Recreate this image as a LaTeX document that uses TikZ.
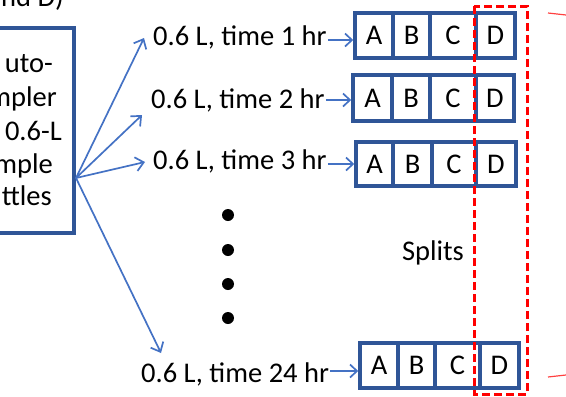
\documentclass[tikz,border=0pt]{standalone}
\usepackage{fontspec}
\setmainfont{Carlito}
\usetikzlibrary{arrows.meta,calc}
\definecolor{boxblue}{HTML}{2F5597}
\definecolor{arrblue}{HTML}{4472C4}
\definecolor{splitred}{HTML}{FF0000}
\begin{document}
\begin{tikzpicture}[x=1pt,y=-1pt,
  txt/.style={inner sep=0pt,font=\fontsize{28.5}{34}\selectfont},
  cell/.style={draw=boxblue,line width=3.5pt,minimum height=45pt,inner sep=0pt,font=\fontsize{28.5}{34}\selectfont},
  fan/.style={arrblue,line width=1.7pt,-{Straight Barb[length=8pt,width=14pt,line width=1.7pt]}},
  sarrow/.style={arrblue,line width=1.7pt,-{Straight Barb[length=7pt,width=13pt,line width=1.7pt]}},
  dot/.style={circle,fill=black,inner sep=0pt,minimum size=12pt},
  splitbox/.style={splitred,line width=3pt,dash pattern=on 8pt off 4pt},
  redstroke/.style={red!75,line width=1.2pt}
]
\useasboundingbox (0,0) rectangle (566,397);
\clip (0,0) rectangle (566,397);
% header fragment
\node[txt,anchor=base east] (hdr) at (64,6) {and D)};
% sampler box
\node[draw=boxblue,line width=4pt,minimum width=134pt,minimum height=205pt,inner sep=0pt] (sampler) at (7,130.5) {};
\node[txt,anchor=base east] (s1) at (53,72) {uto-};
\node[txt,anchor=base east] (s2) at (57,106) {mpler};
\node[txt,anchor=base east] (s3) at (62,140) {0.6-L};
\node[txt,anchor=base east] (s4) at (53,173) {mple};
\node[txt,anchor=base east] (s5) at (52,205) {ttles};
\coordinate (src) at (76,178);
% labels
\node[txt,anchor=base west] (l1) at (153,45) {0.6 L, time 1 hr};
\node[txt,anchor=base west] (l2) at (151,108) {0.6 L, time 2 hr};
\node[txt,anchor=base west] (l3) at (153,169) {0.6 L, time 3 hr};
\node[txt,anchor=base west] (l4) at (141,382) {0.6 L, time 24 hr};
\coordinate (t1) at (144,38);
\coordinate (t2) at (142,115);
\coordinate (t3) at (145,162);
\coordinate (t4) at (161,353);
\draw[fan] (src) -- (t1);
\draw[fan] (src) -- (t2);
\draw[fan] (src) -- (t3);
\draw[fan] (src) -- (t4);
% rows of cells
\node[cell,minimum width=38pt] (A1) at (374,35.5) {A};
\node[cell,minimum width=37pt] (B1) at (411.5,35.5) {B};
\node[cell,minimum width=46pt] (C1) at (453,35.5) {C};
\node[cell,minimum width=39pt] (D1) at (495.5,35.5) {D};
\node[cell,minimum width=39pt,minimum height=46pt] (A2) at (372.5,98) {A};
\node[cell,minimum width=38pt,minimum height=46pt] (B2) at (411,98) {B};
\node[cell,minimum width=46pt,minimum height=46pt] (C2) at (453,98) {C};
\node[cell,minimum width=38pt,minimum height=46pt] (D2) at (495,98) {D};
\node[cell,minimum width=37pt,minimum height=44pt] (A3) at (374.5,164) {A};
\node[cell,minimum width=39pt,minimum height=44pt] (B3) at (412.5,164) {B};
\node[cell,minimum width=44pt,minimum height=44pt] (C3) at (454,164) {C};
\node[cell,minimum width=40pt,minimum height=44pt] (D3) at (496,164) {D};
\node[cell,minimum width=38pt] (A4) at (379,365.5) {A};
\node[cell,minimum width=37pt] (B4) at (416.5,365.5) {B};
\node[cell,minimum width=45pt] (C4) at (457.5,365.5) {C};
\node[cell,minimum width=39pt] (D4) at (499.5,365.5) {D};
% short arrows
\draw[sarrow] ($(l1.base east)+(1,-5)$) coordinate (a1) -- (a1 -| A1.west);
\draw[sarrow] ($(l2.base east)+(1,-8)$) coordinate (a2) -- (a2 -| A2.west);
\draw[sarrow] ($(l3.base east)+(1,-5)$) coordinate (a3) -- (a3 -| A3.west);
\draw[sarrow] ($(l4.base east)+(1,-11)$) coordinate (a4) -- (a4 -| A4.west);
% dots
\node[dot] (d1) at (228,215) {};
\node[dot] (d2) at (228,250) {};
\node[dot] (d3) at (228,284) {};
\node[dot] (d4) at (228,318) {};
\node[txt,anchor=base] (splits) at (433,260) {Splits};
% red split frame
\draw[splitbox] (474,6) rectangle (527,394);
\draw[redstroke] (548,13) -- (566,15);
\draw[redstroke] (548,377) -- (566,375);
\end{tikzpicture}
\end{document}
